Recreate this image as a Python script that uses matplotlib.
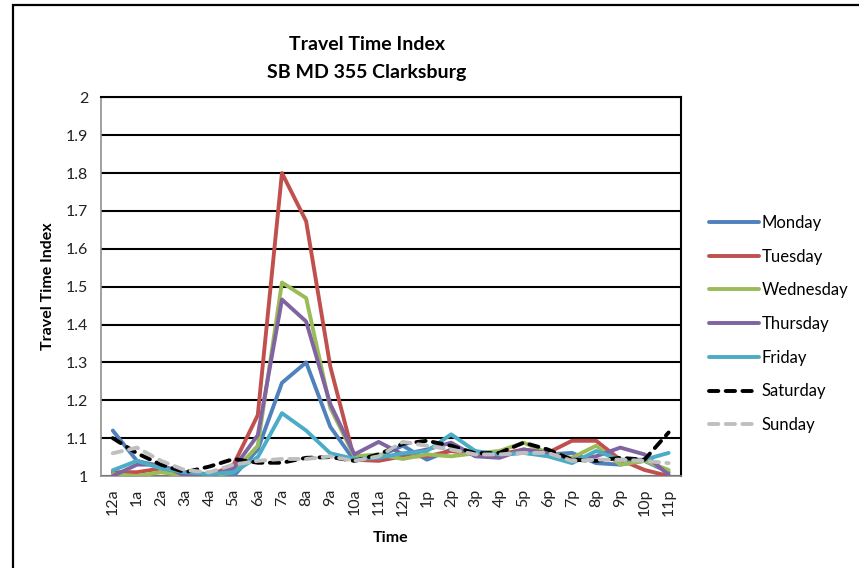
import matplotlib
matplotlib.use("Agg")
import matplotlib.pyplot as plt
from matplotlib.patches import Rectangle

plt.rcParams["font.family"] = ["Lato", "DejaVu Sans"]

hours = ["12a", "1a", "2a", "3a", "4a", "5a", "6a", "7a", "8a", "9a", "10a", "11a",
         "12p", "1p", "2p", "3p", "4p", "5p", "6p", "7p", "8p", "9p", "10p", "11p"]

monday = [1.12, 1.04, 1.025, 1.01, 1.0, 1.0, 1.07, 1.246, 1.30, 1.13, 1.04, 1.052,
          1.08, 1.043, 1.07, 1.06, 1.057, 1.061, 1.057, 1.061, 1.034, 1.03, 1.04, 1.01]
tuesday = [1.01, 1.01, 1.02, 1.0, 1.0, 1.03, 1.161, 1.80, 1.673, 1.289, 1.043, 1.04,
           1.052, 1.052, 1.066, 1.057, 1.057, 1.07, 1.061, 1.093, 1.093, 1.043, 1.016, 1.0]
wednesday = [1.005, 1.0, 1.01, 1.0, 1.0, 1.01, 1.08, 1.511, 1.47, 1.18, 1.052, 1.057,
             1.045, 1.057, 1.052, 1.06, 1.066, 1.088, 1.061, 1.048, 1.08, 1.03, 1.04, 1.016]
thursday = [1.0, 1.03, 1.03, 1.0, 1.0, 1.02, 1.108, 1.466, 1.408, 1.19, 1.057, 1.09,
            1.057, 1.07, 1.088, 1.052, 1.048, 1.07, 1.061, 1.043, 1.052, 1.075, 1.057, 1.003]
friday = [1.015, 1.04, 1.02, 1.01, 1.005, 1.01, 1.05, 1.166, 1.12, 1.06, 1.045, 1.048,
          1.06, 1.066, 1.11, 1.066, 1.057, 1.061, 1.052, 1.034, 1.066, 1.043, 1.043, 1.061]
saturday = [1.10, 1.06, 1.03, 1.01, 1.025, 1.045, 1.035, 1.035, 1.048, 1.05, 1.04, 1.057,
            1.085, 1.093, 1.08, 1.06, 1.061, 1.088, 1.07, 1.043, 1.04, 1.048, 1.043, 1.115]
sunday = [1.06, 1.075, 1.04, 1.015, 1.01, 1.03, 1.04, 1.045, 1.045, 1.052, 1.04, 1.052,
          1.09, 1.08, 1.07, 1.057, 1.057, 1.061, 1.061, 1.04, 1.043, 1.043, 1.04, 1.034]

series = [
    ("Monday", monday, "#4F81BD", "-"),
    ("Tuesday", tuesday, "#C0504D", "-"),
    ("Wednesday", wednesday, "#9BBB59", "-"),
    ("Thursday", thursday, "#8064A2", "-"),
    ("Friday", friday, "#4BACC6", "-"),
    ("Saturday", saturday, "#000000", "--"),
    ("Sunday", sunday, "#BFBFBF", "--"),
]

W, H = 859, 568
fig = plt.figure(figsize=(W / 100, H / 100), dpi=100)
ax = fig.add_axes([100.7 / W, 1 - 476 / H, 580 / W, (476 - 97.3) / H])

x = list(range(len(hours)))
for name, vals, col, ls in series:
    if ls == "--":
        ax.plot(x, vals, color=col, lw=2.8, dashes=(2.4, 1.9), dash_capstyle="round",
                label=name, zorder=3)
    else:
        ax.plot(x, vals, color=col, lw=2.8, solid_capstyle="round", label=name, zorder=3)

ax.set_xlim(-0.5, len(hours) - 0.5)
ax.set_ylim(1, 2)
ax.set_yticks([1 + 0.1 * k for k in range(11)])
ax.set_yticklabels(["1", "1.1", "1.2", "1.3", "1.4", "1.5", "1.6", "1.7", "1.8", "1.9", "2"])
ax.set_xticks(x)
ax.set_xticklabels(hours, rotation=90)
ax.tick_params(axis="both", labelsize=11.5, length=0, colors="#222222")
ax.tick_params(axis="x", pad=9)
ax.tick_params(axis="y", pad=9)
ax.yaxis.grid(True, color="black", lw=1.5)
ax.set_axisbelow(True)
for s in ["left", "bottom"]:
    ax.spines[s].set_color("#909090")
    ax.spines[s].set_linewidth(1.2)
for s in ["top", "right"]:
    ax.spines[s].set_color("black")
    ax.spines[s].set_linewidth(1.5)

ax.set_xlabel("Time", fontsize=11.5, fontweight="bold", labelpad=11)
ax.set_ylabel("Travel Time Index", fontsize=11.5, fontweight="bold", labelpad=8)

fig.text(367 / W, 1 - 44 / H, "Travel Time Index", ha="center", va="center",
         fontsize=14, fontweight="bold")
fig.text(367 / W, 1 - 72 / H, "SB MD 355 Clarksburg", ha="center", va="center",
         fontsize=14, fontweight="bold")

fig.legend(loc="center left", bbox_to_anchor=(694 / W, 1 - 324 / H), frameon=False,
           fontsize=12, handlelength=3.0, handletextpad=0.15, labelspacing=1.06)

fig.add_artist(Rectangle((13 / W, -0.1), 1.2, 1.1 - 5 / H, transform=fig.transFigure,
                         fill=False, edgecolor="black", lw=1.6))

fig.savefig("out.png", dpi=100)
